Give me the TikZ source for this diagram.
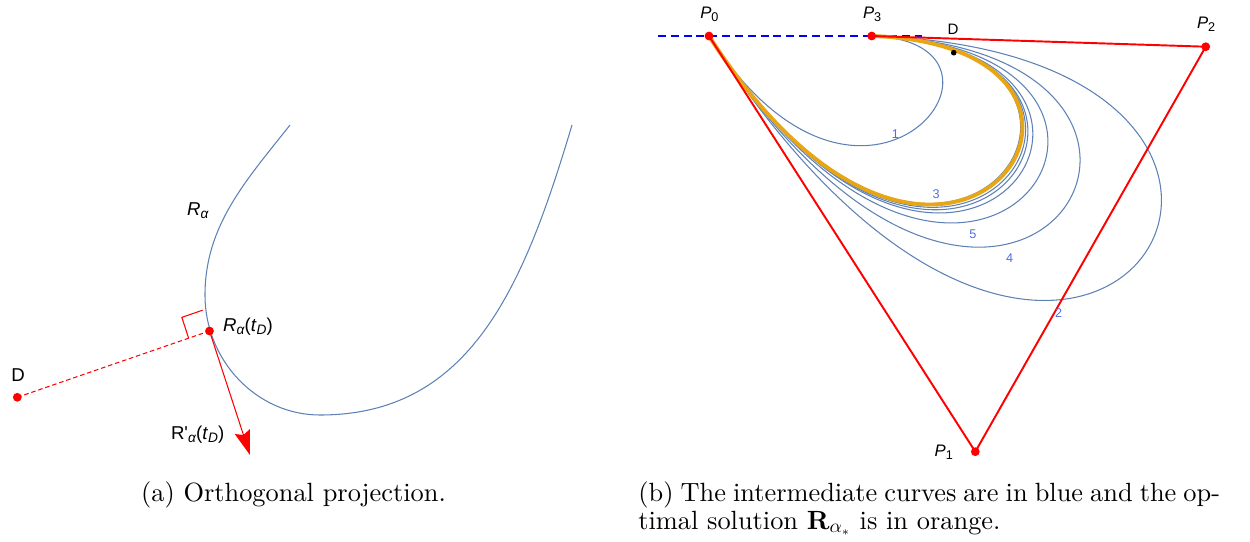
\documentclass[tikz,border=0pt]{standalone}
\usepackage{fontspec}
\setmainfont{lmroman10}[Extension=.otf, UprightFont=*-regular, BoldFont=*-bold, ItalicFont=*-italic, BoldItalicFont=*-bolditalic]
\newfontfamily\lab{Liberation Sans}
\usetikzlibrary{arrows.meta,calc}
\definecolor{curveblue}{RGB}{94,129,181}
\definecolor{optorange}{RGB}{232,165,20}
\definecolor{numblue}{RGB}{80,110,225}
\newcommand\sbs[1]{\raisebox{-0.35ex}{\fontsize{7.2pt}{8pt}\selectfont #1}}
\newcommand\sbl[1]{\raisebox{-0.35ex}{\fontsize{7.8pt}{8pt}\selectfont #1}}
\newcommand\capfont{\fontsize{15pt}{17pt}\selectfont}
\newcommand\bez[3]{\draw[#1] (P0) .. controls ($(P0)!#2!(P1)$) and ($(P3)!#3!(P2)$) .. (P3);}
\tikzset{
  lbl/.style={inner sep=0pt, anchor=base west, font=\fontsize{9.5pt}{11pt}\selectfont\lab},
  lbll/.style={inner sep=0pt, anchor=base west, font=\fontsize{10.6pt}{12pt}\selectfont\lab},
  num/.style={inner sep=0pt, text=numblue, font=\fontsize{7.2pt}{8pt}\selectfont\lab},
  reddot/.style={circle, fill=red, inner sep=0pt, minimum size=5pt},
  blackdot/.style={circle, fill=black, inner sep=0pt, minimum size=3.2pt},
  curve/.style={draw=curveblue, line width=0.6pt},
  poly/.style={draw=red, line width=1.1pt},
}
\begin{document}
\begin{tikzpicture}[x=0.02cm, y=-0.02cm]
\useasboundingbox (0,0) rectangle (1250,541);
% ---------------- left panel ----------------
\coordinate (A0) at (290,125);
\coordinate (A1) at (205,295);
\coordinate (A2) at (320,415);
\coordinate (A3) at (572,125);
\draw[curve] (A0) .. controls (246.6,180) and (205,225) .. (A1)
  .. controls (205,361) and (257,415) .. (A2)
  .. controls (470,415) and (523.4,287.9) .. (A3);
\coordinate (R) at (209.5,331);
\coordinate (D) at (17.3,397.3);
\coordinate (T) at (250,455);
\coordinate (qa) at ($(R)!0.1085!(D)$);
\coordinate (qb) at ($(R)!-0.168!(T)$);
\draw[red, line width=0.6pt] (qa) -- ($(qa)+(qb)-(R)$) -- (qb);
\draw[red, line width=0.6pt, dash pattern=on 2.6pt off 1.6pt] (D) -- (R);
\draw[red, line width=0.6pt, -{Stealth[length=14pt,width=9pt,inset=2pt]}] (R) -- (T);
\node[reddot] (dD) at (D) {};
\node[reddot] (dR) at (R) {};
\node[lbll] (lRa) at (186.7,215.3) {\textit{R}\sbl{\textit{α}}};
\node[lbll] (lRt) at (222.7,331.3) {\textit{R}\sbl{\textit{α}}(\textit{t}\sbl{\textit{D}})};
\node[lbll] (lD) at (11,381.7) {D};
\node[lbll] (lRp) at (170.7,439.3) {R\symbol{"27}\sbl{\textit{α}}(\textit{t}\sbl{\textit{D}})};
% ---------------- right panel ----------------
\coordinate (P0) at (709,36);
\coordinate (P1) at (975.3,451.7);
\coordinate (P2) at (1205.7,46.7);
\coordinate (P3) at (871.7,36);
\coordinate (DL) at (658,36);
\coordinate (DR) at (922,36);
\draw[blue, line width=1.1pt, dash pattern=on 4.5pt off 2.8pt] (DL) -- (DR);
\bez{curve}{0.587}{0.52}
\bez{curve}{1.41}{1.65}
\bez{curve}{1.127}{1.23}
\bez{curve}{0.998}{1.07}
\bez{curve}{0.945}{0.991}
\bez{curve}{0.928}{0.965}
\bez{curve}{0.915}{0.955}
\bez{curve}{0.895}{0.93}
\bez{draw=optorange, line width=2.2pt}{0.9}{0.94}
\draw[poly] (P0) -- (P1) -- (P2) -- (P3);
\node[reddot] (d0) at (P0) {};
\node[reddot] (d1) at (P1) {};
\node[reddot] (d2) at (P2) {};
\node[reddot] (d3) at (P3) {};
\node[blackdot] (dDD) at (953.7,52.7) {};
\node[lbl] (lP0) at (700,18.3) {\textit{P}\sbs{0}};
\node[lbl] (lP3) at (862.7,18.3) {\textit{P}\sbs{3}};
\node[lbl] (lP2) at (1196.7,28.3) {\textit{P}\sbs{2}};
\node[lbl] (lP1) at (934.3,456.7) {\textit{P}\sbs{1}};
\node[lbl, font=\fontsize{8.6pt}{10pt}\selectfont\lab] (lDD) at (947.3,34.3) {D};
\node[num] (n1) at (895.5,134) {1};
\node[num] (n2) at (1058.7,313.3) {2};
\node[num] (n3) at (936.2,194.5) {3};
\node[num] (n4) at (1009.7,258) {4};
\node[num] (n5) at (973,234) {5};
% ---------------- captions ----------------
\node[inner sep=0pt, anchor=base, font=\capfont] (capa) at (293.5,501) {(a) Orthogonal projection.};
\node[inner sep=0pt, anchor=base west, font=\capfont] (capb1) at (638,501) {\makebox[331.1pt][s]{(b) The intermediate curves are in blue and the op-}};
\node[inner sep=0pt, anchor=base west, font=\capfont] (capb2) at (638,529) {timal solution $\mathbf{R}_{\alpha_*}$ is in orange.};
\end{tikzpicture}
\end{document}
